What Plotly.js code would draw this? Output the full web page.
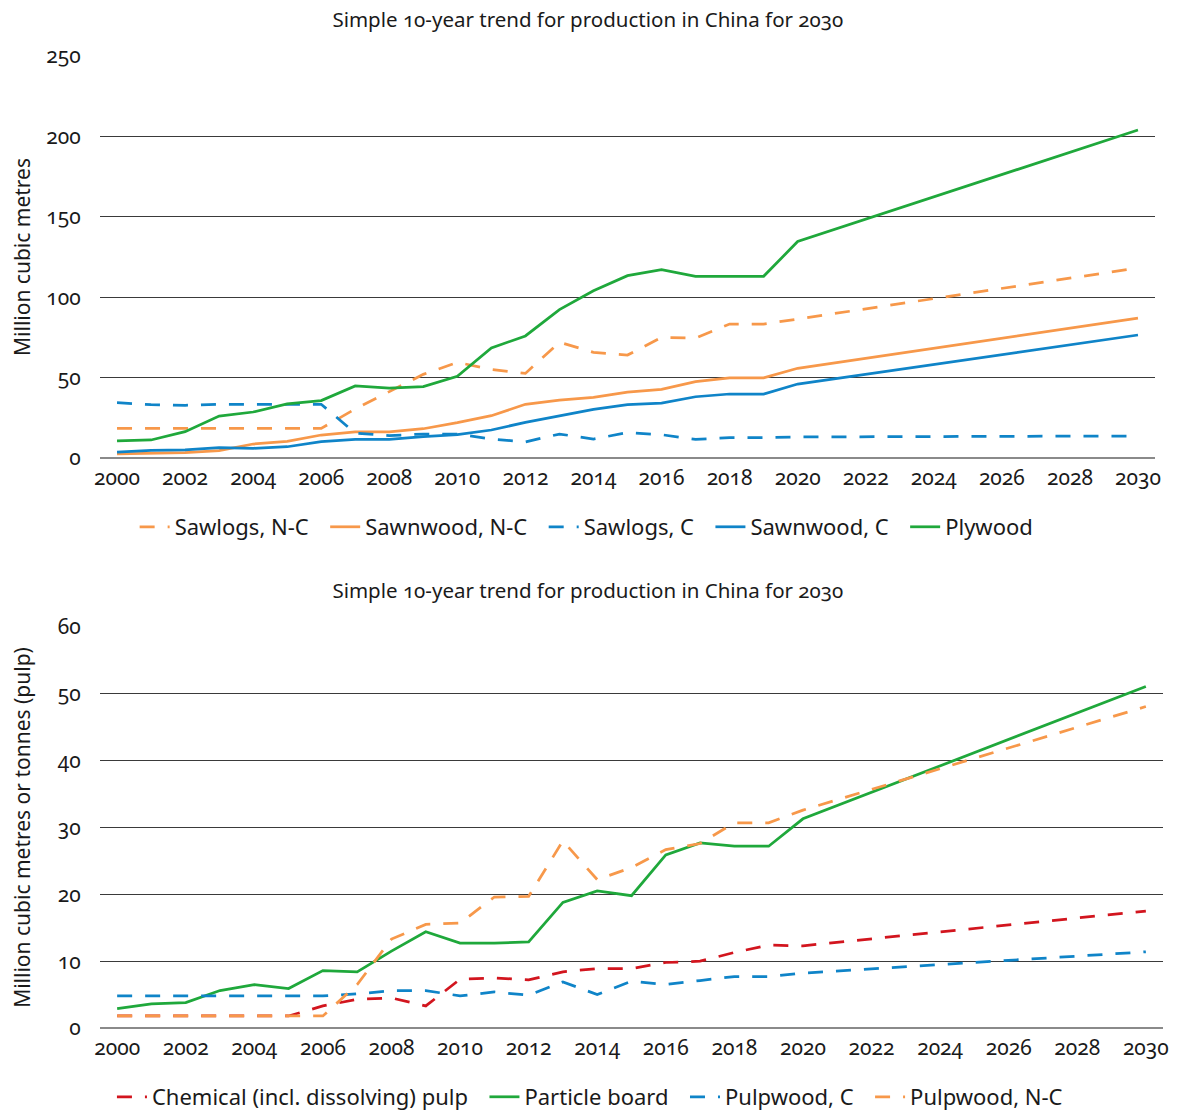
<!DOCTYPE html>
<html>
<head>
<meta charset="utf-8">
<script src="https://cdn.plot.ly/plotly-3.0.1.min.js"></script>
<style>
  html, body { margin: 0; padding: 0; background: #fff; }
  #top, #bottom { width: 1178px; height: 556px; }
  .js-plotly-plot text { font-feature-settings: "onum" 1; }
</style>
</head>
<body>
<div id="top"></div>
<div id="bottom"></div>
<script>
// ---------- data ----------
const years = [2000,2001,2002,2003,2004,2005,2006,2007,2008,2009,2010,
               2011,2012,2013,2014,2015,2016,2017,2018,2019,2020,
               2021,2022,2023,2024,2025,2026,2027,2028,2029,2030];
const xTicks = [2000,2002,2004,2006,2008,2010,2012,2014,2016,2018,2020,2022,2024,2026,2028,2030];
const N = null; // trend years drawn as straight line between 2020 and 2030

// Top chart (million cubic metres)
const sawlogsNC  = [18.4,18.4,18.4,18.4,18.4,18.4,18.4,30.5,41.5,52,59.5,55,52.6,72,65.7,64,75,74.6,83.3,83.3,86.4, N,N,N,N,N,N,N,N,N,118.2];
const sawnwoodNC = [2.5,2.7,3.3,4.6,8.7,10.4,14.3,16.2,16.2,18.2,22,26.3,33.4,36,37.7,41,42.7,47.5,49.8,49.8,55.8, N,N,N,N,N,N,N,N,N,87];
const sawlogsC   = [34.4,33.2,32.8,33.4,33.4,33.4,33.4,15.5,13.9,14.9,14.9,11.8,10,14.9,11.8,15.8,14.5,11.6,12.6,12.6,13.1, N,N,N,N,N,N,N,N,N,13.7];
const sawnwoodC  = [3.7,4.8,5,6.4,6,7,10.2,11.6,11.6,13.3,14.5,17.4,22.2,26.1,30.3,33.2,34.2,38.1,39.8,39.8,46, N,N,N,N,N,N,N,N,N,76.5];
const plywood    = [10.6,11.2,16.4,26.1,28.6,33.6,35.7,44.8,43.5,44.4,50.8,68.4,75.9,92.3,104,113.4,117.1,113,113,113,134.6, N,N,N,N,N,N,N,N,N,204];

// Bottom chart (million cubic metres or tonnes)
const chemPulp      = [1.8,1.8,1.8,1.8,1.8,1.8,3.3,4.3,4.5,3.3,7.3,7.5,7.2,8.4,8.9,8.9,9.8,10,11.3,12.4,12.3, N,N,N,N,N,N,N,N,N,17.5];
const particleBoard = [2.9,3.6,3.8,5.6,6.5,5.9,8.6,8.4,11.5,14.4,12.7,12.7,12.9,18.8,20.5,19.8,25.9,27.7,27.2,27.2,31.3, N,N,N,N,N,N,N,N,N,51.1];
const pulpwoodC     = [4.8,4.8,4.8,4.8,4.8,4.8,4.8,5.1,5.6,5.6,4.8,5.4,4.9,6.9,5.0,7.0,6.5,7.1,7.7,7.7,8.2, N,N,N,N,N,N,N,N,N,11.4];
const pulpwoodNC    = [1.8,1.8,1.8,1.8,1.8,1.8,1.8,6.5,13.3,15.5,15.7,19.6,19.7,28,22.2,24,26.7,27.6,30.7,30.7,32.6, N,N,N,N,N,N,N,N,N,48.1];

const titleText = "Simple 10-year trend for production in China for 2030";

// ---------- styles ----------
const ORANGE = "#f7984a", BLUE = "#0f84c8", GREEN = "#1fa83b", RED = "#d2151e";
const FONT = "'Noto Sans', 'Open Sans', sans-serif";
const LW = 2.75;
const DASH = "15px,13px";
const PAD = "\u00A0\u00A0"; // extra spacing between legend entries

function tr(name, y, color, dashed, pad) {
  return { type: "scatter", mode: "lines", x: years, y: y, name: pad ? name + PAD : name,
           connectgaps: true,
           line: { color: color, width: LW, dash: dashed ? DASH : "solid" } };
}

function axisX() {
  return { range: [1999.5, 2030.5], tickvals: xTicks, ticktext: xTicks.map(String),
           showgrid: false, zeroline: false, showline: false,
           ticks: "outside", ticklen: 1, tickcolor: "rgba(0,0,0,0)",
           tickfont: { family: FONT, size: 21, color: "#1a1a1a" }, fixedrange: true };
}
function axisY(range, dtick, title, standoff) {
  return { range: range, dtick: dtick, showgrid: true, gridcolor: "#3a3a3a", gridwidth: 1,
           zeroline: true, zerolinecolor: "#8a8a8a", zerolinewidth: 2, showline: false,
           ticks: "outside", ticklen: 14, tickcolor: "rgba(0,0,0,0)",
           tickfont: { family: FONT, size: 21, color: "#1a1a1a" },
           title: { text: title, font: { family: FONT, size: 21, color: "#1a1a1a" }, standoff: standoff },
           automargin: false, fixedrange: true };
}

// ---------- top chart ----------
Plotly.newPlot("top", [
  tr("Sawlogs, N-C", sawlogsNC, ORANGE, true, true),
  tr("Sawnwood, N-C", sawnwoodNC, ORANGE, false, true),
  tr("Sawlogs, C", sawlogsC, BLUE, true, true),
  tr("Sawnwood, C", sawnwoodC, BLUE, false, true),
  tr("Plywood", plywood, GREEN, false, false)
], {
  width: 1178, height: 556,
  margin: { l: 100, r: 23, t: 56, b: 98 },
  paper_bgcolor: "#fff", plot_bgcolor: "#fff",
  title: { text: titleText, font: { family: FONT, size: 20.5, color: "#1a1a1a" },
           x: 0.499, xref: "container", y: 1 - 20/556, yref: "container", yanchor: "middle" },
  xaxis: axisX(),
  yaxis: axisY([0, 250], 50, "Million cubic metres", 8),
  showlegend: true,
  legend: { orientation: "h", xref: "container", yref: "container", x: 0.498, xanchor: "center",
            y: 1 - 527/556, yanchor: "middle", font: { family: FONT, size: 22, color: "#1a1a1a" },
            itemwidth: 30, traceorder: "normal" }
}, { staticPlot: true });

// ---------- bottom chart ----------
Plotly.newPlot("bottom", [
  tr("Chemical (incl. dissolving) pulp", chemPulp, RED, true, true),
  tr("Particle board", particleBoard, GREEN, false, true),
  tr("Pulpwood, C", pulpwoodC, BLUE, true, true),
  tr("Pulpwood, N-C", pulpwoodNC, ORANGE, true, false)
], {
  width: 1178, height: 556,
  margin: { l: 100, r: 15, t: 71, b: 84 },
  paper_bgcolor: "#fff", plot_bgcolor: "#fff",
  title: { text: titleText, font: { family: FONT, size: 20.5, color: "#1a1a1a" },
           x: 0.499, xref: "container", y: 1 - 35/556, yref: "container", yanchor: "middle" },
  xaxis: axisX(),
  yaxis: axisY([0, 60], 10, "Million cubic metres or tonnes (pulp)", 20),
  showlegend: true,
  legend: { orientation: "h", xref: "container", yref: "container", x: 0.5008, xanchor: "center",
            y: 1 - 541/556, yanchor: "middle", font: { family: FONT, size: 22, color: "#1a1a1a" },
            itemwidth: 30, traceorder: "normal" }
}, { staticPlot: true });
</script>
</body>
</html>
